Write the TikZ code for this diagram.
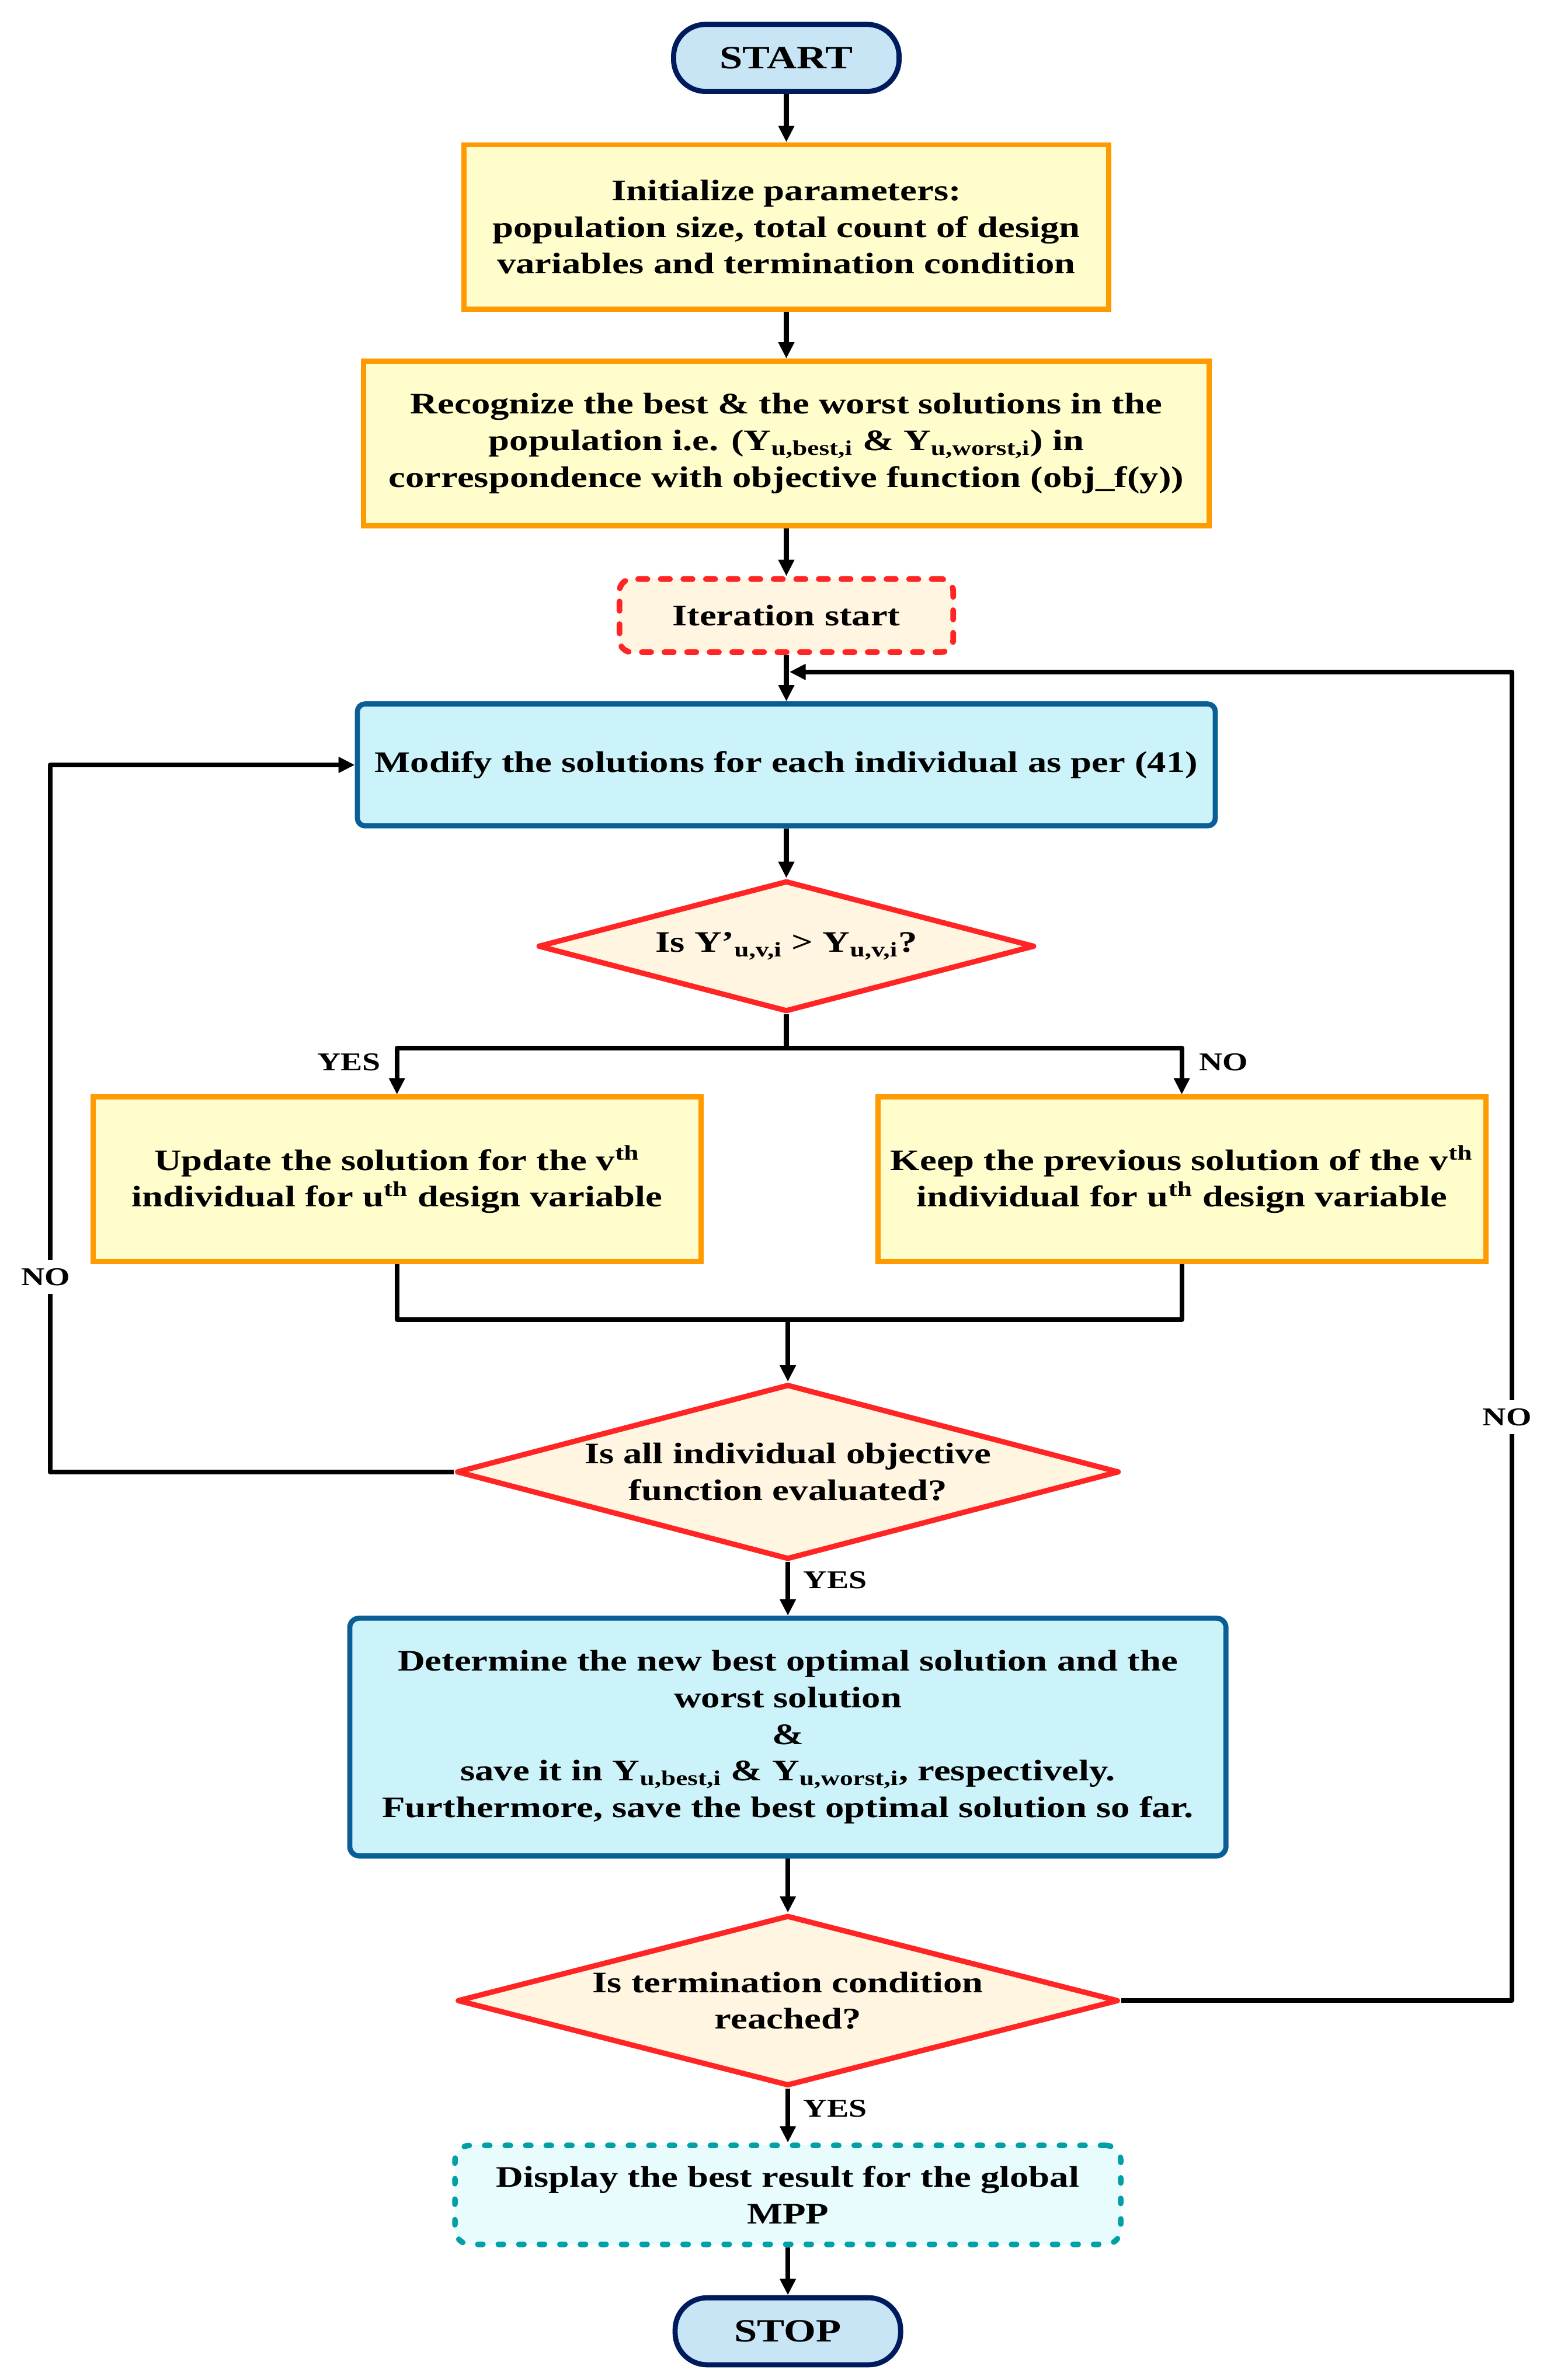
\documentclass[tikz,border=0pt]{standalone}
\usepackage{fontspec}
\setmainfont{Liberation Serif}[FakeStretch=1.27]
\usetikzlibrary{arrows.meta,shapes.geometric}
\definecolor{navyb}{HTML}{001A5E}
\definecolor{termf}{HTML}{C8E5F6}
\definecolor{orangeb}{HTML}{FF9A00}
\definecolor{yellowf}{HTML}{FFFDCC}
\definecolor{cyanb}{HTML}{0A5E96}
\definecolor{cyanf}{HTML}{CDF3FA}
\definecolor{redb}{HTML}{FF2525}
\definecolor{creamf}{HTML}{FFF5E1}
\definecolor{tealb}{HTML}{00A0A6}
\definecolor{tealf}{HTML}{E8FBFD}
\newcommand\bodyfont{\fontsize{14.5}{17.8}\selectfont\bfseries}
\newcommand\termfont{\fontsize{15.8}{19}\selectfont\bfseries}
\newcommand\lblfont{\fontsize{12.5}{15}\selectfont\bfseries}
\newcommand\zw[1]{\makebox[0pt]{#1}}
\begin{document}
\begin{tikzpicture}[x=0.02609cm,y=-0.02609cm,
  base/.style={align=center, font=\bodyfont, inner sep=0pt},
  term/.style={base, draw=navyb, fill=termf, line width=2.5pt, rounded corners=0.548cm,
    minimum width=3.861cm, minimum height=1.148cm, font=\termfont},
  proc/.style={base, draw=orangeb, fill=yellowf, line width=2.5pt},
  cyanbox/.style={base, draw=cyanb, fill=cyanf, line width=2.5pt},
  dec/.style={base, diamond, draw=redb, fill=creamf, line width=2.6pt, line join=round},
  link/.style={line width=2.3pt, line join=round},
  conn/.style={link, -{Triangle[length=0.28cm,width=0.26cm]}},
  lbl/.style={font=\lblfont, inner sep=1pt}]
\useasboundingbox (0,0) rectangle (1024,1562);

\node[term] (start) at (516,38) {START};
\node[proc, minimum width=11.036cm, minimum height=2.818cm] (init) at (516,149)
  {Initialize parameters:\\population size, total count of design\\variables and termination condition};
\node[proc, minimum width=14.48cm, minimum height=2.818cm] (recog) at (516,291)
  {Recognize the best \& the worst solutions in the\\population i.e. (Y\textsubscript{u,best,i} \& Y\textsubscript{u,worst,i}) in\\correspondence with objective function (obj\_f(y))};
\node[base, draw=redb, fill=creamf, line width=2.8pt, dash pattern=on 4.5pt off 6.5pt, line cap=round,
  rounded corners=0.21cm, minimum width=5.714cm, minimum height=1.252cm] (iter) at (516,404) {Iteration start};
\node[cyanbox, rounded corners=0.13cm, minimum width=14.689cm, minimum height=2.087cm] (modify) at (516,502)
  {Modify the solutions for each individual as per (41)};
\node[dec, minimum width=8.505cm, minimum height=2.244cm] (d1) at (516,621)
  {\zw{Is Y’\textsubscript{u,v,i} > Y\textsubscript{u,v,i}?}};
\node[proc, minimum width=10.41cm, minimum height=2.818cm] (yesbox) at (260.5,774)
  {Update the solution for the v\textsuperscript{th}\\individual for u\textsuperscript{th} design variable};
\node[proc, minimum width=10.41cm, minimum height=2.818cm] (nobox) at (775.5,774)
  {Keep the previous solution of the v\textsuperscript{th}\\individual for u\textsuperscript{th} design variable};
\node[dec, minimum width=11.349cm, minimum height=3.0cm] (d2) at (517,966)
  {\zw{Is all individual objective}\\\zw{function evaluated?}};
\node[cyanbox, rounded corners=0.16cm, minimum width=15.002cm, minimum height=4.07cm] (det) at (517,1140)
  {Determine the new best optimal solution and the\\worst solution\\\&\\save it in Y\textsubscript{u,best,i} \& Y\textsubscript{u,worst,i}, respectively.\\Furthermore, save the best optimal solution so far.};
\node[dec, minimum width=11.323cm, minimum height=2.922cm] (d3) at (517,1313)
  {\zw{Is termination condition}\\\zw{reached?}};
\node[base, draw=tealb, fill=tealf, line width=2.7pt, dash pattern=on 2.5pt off 7.5pt, line cap=round,
  rounded corners=0.26cm, minimum width=11.401cm, minimum height=1.696cm] (disp) at (517,1440.5)
  {Display the best result for the global\\MPP};
\node[term] (stop) at (517,1530) {STOP};

\coordinate (split) at (516,688);
\coordinate (join) at (517,866);
\coordinate (lc) at (33,966);
\coordinate (rc) at (992,441);
\coordinate (merge) at (518,441);

\draw[conn] (start) -- (init);
\draw[conn] (init) -- (recog);
\draw[conn] (recog) -- (iter);
\draw[conn] (iter) -- (modify);
\draw[conn] (modify) -- (d1);
\draw[link] (d1.south) -- (split);
\draw[conn] (split) -| (yesbox.north);
\draw[conn] (split) -| (nobox.north);
\draw[link] (yesbox.south) |- (join) -| (nobox.south);
\draw[conn] (join) -- (d2.north);
\draw[conn] (d2.west) -- (lc) |- (modify.west);
\draw[conn] (d2.south) -- (det.north);
\draw[conn] (det.south) -- (d3.north);
\draw[conn] (d3.south) -- (disp.north);
\draw[conn] (disp.south) -- (stop.north);
\draw[conn] (d3.east) -| (rc) -- (merge);

\node[lbl] (lyes1) at (229,697) {YES};
\node[lbl] (lno1) at (803,697) {NO};
\node[lbl, fill=white, inner ysep=4pt] (lno2) at (30,838) {NO};
\node[lbl, fill=white, inner ysep=4pt] (lno3) at (989,930) {NO};
\node[lbl] (lyes2) at (548,1037) {YES};
\node[lbl] (lyes3) at (548,1384) {YES};
\end{tikzpicture}
\end{document}
